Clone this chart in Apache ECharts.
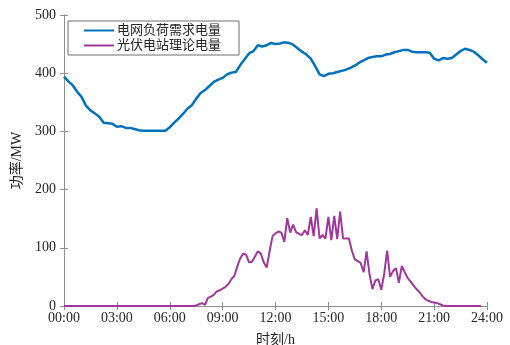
<!DOCTYPE html>
<html>
<head>
<meta charset="utf-8">
<script src="https://cdn.jsdelivr.net/npm/echarts@6/dist/echarts.min.js"></script>
<style>
  html, body { margin: 0; padding: 0; background: #fff; }
  #chart { width: 510px; height: 345px; }
</style>
</head>
<body>
<div id="chart"></div>
<script>
// grid load demand, 15-min samples from 00:00 to 24:00 (MW)
var loadStep = 0.25;
var loadValues = [
  394, 386, 379, 368, 359, 344, 336, 331, 325, 315, 314, 313, 308, 309, 306, 306,
  304, 302, 301, 301, 301, 301, 301, 301, 307, 315, 322, 330, 339, 345, 356, 366,
  371, 378, 385, 389, 392, 398, 401, 402, 414, 424, 434, 438, 448, 446, 448, 452,
  450, 451, 453, 452, 449, 443, 437, 432, 425, 412, 398, 395, 399, 400, 402, 404,
  406, 409, 413, 418, 422, 426, 428, 429, 429, 432, 433, 436, 438, 440, 440, 437,
  436, 436, 436, 435, 425, 422, 426, 425, 426, 432, 438, 442, 440, 437, 431, 424,
  418
];

// PV plant theoretical output, 10-min samples from 00:00 to 24:00 (MW)
var pvStep = 1 / 6;
var pvValues = [
  0, 0, 0, 0, 0, 0, 0, 0, 0, 0, 0, 0, 0, 0, 0, 0, 0, 0, 0, 0, 0, 0, 0, 0,
  0, 0, 0, 0, 0, 0, 0, 0, 0, 0, 0, 0, 0, 0, 0, 0, 0, 0, 0, 0, 0, 1, 3, 5,
  2, 14, 16, 19, 25, 27, 30, 33, 38, 46, 52, 68, 82, 90, 88, 75, 76, 85, 94, 90,
  75, 66, 95, 120, 125, 128, 126, 110, 151, 126, 140, 127, 124, 122, 130, 122, 153, 120,
  168, 116, 122, 116, 153, 113, 155, 115, 162, 116, 116, 116, 95, 80, 77, 74, 58, 94,
  55, 29, 44, 46, 28, 55, 95, 50, 60, 65, 40, 69, 58, 48, 42, 35, 29, 24,
  17, 12, 9, 7, 6, 5, 3, 1, 0, 0, 0, 0, 0, 0, 0, 0, 0, 0, 0, 0,
  0
];

var seriesNames = ['电网负荷需求电量', '光伏电站理论电量'];
var xTicks = [0, 3, 6, 9, 12, 15, 18, 21, 24];
var yTicks = [0, 100, 200, 300, 400, 500];

function toPairs(values, step) {
  return values.map(function (v, i) { return [i * step, v]; });
}

function hourLabel(h) {
  return (h < 10 ? '0' + h : '' + h) + ':00';
}

var axisGray = '#8f8f8f';
var textColor = '#262626';
var serif = '"Liberation Serif", "Noto Sans CJK SC", serif';

var chart = echarts.init(document.getElementById('chart'));

var option = {
  animation: false,
  backgroundColor: '#fff',
  grid: { left: 64, right: 23, top: 15, bottom: 39, outerBoundsMode: 'none' },
  legend: {
    orient: 'vertical',
    left: 68,
    top: 21,
    data: seriesNames,
    backgroundColor: '#fff',
    borderColor: '#6e6e6e',
    borderWidth: 1,
    borderRadius: 0,
    padding: [3, 18, 3, 16],
    itemWidth: 30,
    itemHeight: 12,
    itemGap: 2,
    icon: 'path://M0,5 L30,5 L30,7 L0,7 Z',
    textStyle: { color: textColor, fontSize: 13, fontFamily: serif, padding: [0, 0, 0, -2] }
  },
  xAxis: [
    {
      type: 'value',
      min: 0,
      max: 24,
      interval: 3,
      name: '时刻/h',
      nameLocation: 'middle',
      nameGap: 27,
      nameTextStyle: { color: textColor, fontSize: 14, fontFamily: serif },
      axisLine: { show: true, lineStyle: { color: axisGray, width: 1 } },
      axisTick: { show: true, inside: true, length: 4, lineStyle: { color: axisGray } },
      axisLabel: {
        color: textColor, fontSize: 14, fontFamily: serif, margin: 5,
        formatter: function (v) { return xTicks.indexOf(v) >= 0 ? hourLabel(v) : ''; }
      },
      splitLine: { show: false }
    },
    {
      type: 'value',
      position: 'top',
      min: 0,
      max: 24,
      interval: 3,
      axisLine: { show: true, lineStyle: { color: axisGray, width: 1 } },
      axisTick: { show: true, inside: true, length: 4, lineStyle: { color: axisGray } },
      axisLabel: { show: false },
      splitLine: { show: false }
    }
  ],
  yAxis: [
    {
      type: 'value',
      min: 0,
      max: 500,
      interval: 100,
      name: '功率/MW',
      nameLocation: 'middle',
      nameGap: 36,
      nameRotate: 90,
      nameTextStyle: { color: textColor, fontSize: 14, fontFamily: serif },
      axisLine: { show: true, lineStyle: { color: axisGray, width: 1 } },
      axisTick: { show: true, inside: true, length: 4, lineStyle: { color: axisGray } },
      axisLabel: {
        color: textColor, fontSize: 14, fontFamily: serif, margin: 8,
        formatter: function (v) { return yTicks.indexOf(v) >= 0 ? String(v) : ''; }
      },
      splitLine: { show: false }
    },
    {
      type: 'value',
      position: 'right',
      min: 0,
      max: 500,
      interval: 100,
      axisLine: { show: true, lineStyle: { color: axisGray, width: 1 } },
      axisTick: { show: true, inside: true, length: 4, lineStyle: { color: axisGray } },
      axisLabel: { show: false },
      splitLine: { show: false }
    }
  ],
  series: [
    {
      name: seriesNames[0],
      type: 'line',
      xAxisIndex: 0,
      yAxisIndex: 0,
      data: toPairs(loadValues, loadStep),
      showSymbol: false,
      symbol: 'none',
      lineStyle: { color: '#0072BD', width: 2.5 },
      itemStyle: { color: '#0072BD' }
    },
    {
      name: seriesNames[1],
      type: 'line',
      xAxisIndex: 0,
      yAxisIndex: 0,
      data: toPairs(pvValues, pvStep),
      showSymbol: false,
      symbol: 'none',
      lineStyle: { color: '#A0379B', width: 2 },
      itemStyle: { color: '#A0379B' }
    }
  ]
};

chart.setOption(option);
</script>
</body>
</html>
